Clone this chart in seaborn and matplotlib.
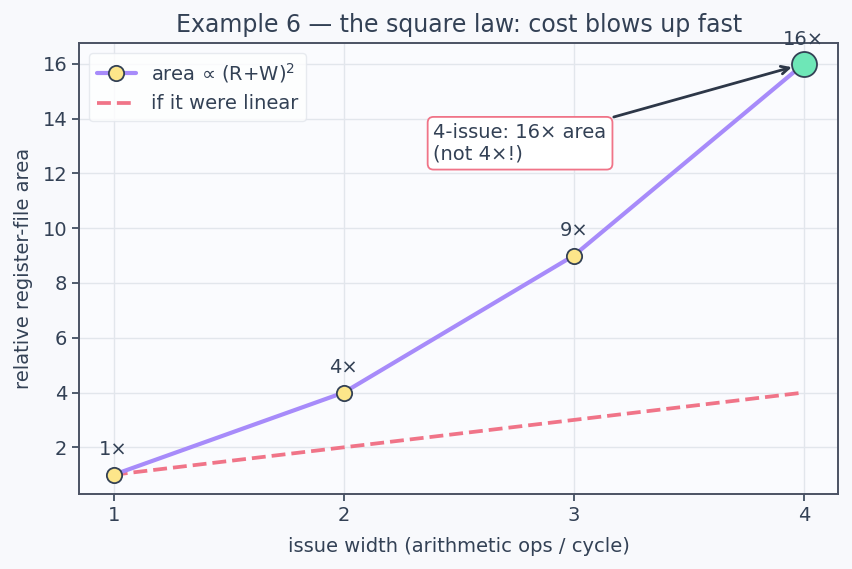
import matplotlib
matplotlib.use("Agg")
import matplotlib.pyplot as plt
import seaborn as sns
import pandas as pd

issue_width = [1, 2, 3, 4]
area_square = [1, 4, 9, 16]
area_linear = [1, 2, 3, 4]
point_labels = ["1×", "4×", "9×", "16×"]

TEXT = "#334155"
sns.set_theme(style="whitegrid")
plt.rcParams.update({
    "font.family": ["DejaVu Sans"],
    "figure.facecolor": "#f8f9fc",
    "axes.facecolor": "#fafbfe",
    "axes.edgecolor": "#4b5263",
    "grid.color": "#e2e6ec",
    "text.color": TEXT,
    "axes.labelcolor": TEXT,
    "xtick.color": TEXT,
    "ytick.color": TEXT,
})

df = pd.DataFrame({"w": issue_width, "sq": area_square, "lin": area_linear})

fig, ax = plt.subplots(figsize=(8.52, 5.69), dpi=100)
sns.lineplot(data=df, x="w", y="sq", ax=ax, color="#a78bfa", linewidth=3,
             marker="o", markersize=11, markerfacecolor="#fde68a",
             markeredgecolor="#334155", markeredgewidth=1.3,
             label="area ∝ (R+W)$^2$", zorder=3)
sns.lineplot(data=df, x="w", y="lin", ax=ax, color="#f07488", linewidth=2.7,
             linestyle="--", label="if it were linear", zorder=2)
ax.plot(issue_width[-1:], area_square[-1:], "o", markersize=18,
        markerfacecolor="#6ee7b7", markeredgecolor="#334155",
        markeredgewidth=1.3, zorder=4)

for x, y, t in zip(issue_width, area_square, point_labels):
    ax.annotate(t, (x, y), xytext=(0, 11), textcoords="offset points",
                ha="center", va="bottom", fontsize=14, color=TEXT)

ax.annotate("4-issue: 16× area\n(not 4×!)", xy=(4, 16), xytext=(2.39, 13.1),
            ha="left", va="center", fontsize=14, color=TEXT,
            bbox=dict(boxstyle="round,pad=0.3", fc="white", ec="#f07488", lw=1.3),
            arrowprops=dict(arrowstyle="->", color="#2d3748", lw=2,
                            shrinkB=9),
            zorder=5)

ax.set_xticks(issue_width)
ax.set_xlabel("issue width (arithmetic ops / cycle)", fontsize=14, labelpad=9)
ax.set_ylabel("relative register-file area", fontsize=14, labelpad=7)
ax.set_title("Example 6 — the square law: cost blows up fast", fontsize=17,
             color=TEXT, pad=8)
ax.tick_params(axis="both", labelsize=14, length=5, width=1.2, bottom=True, left=True)
for s in ax.spines.values():
    s.set_color("#4b5263")
    s.set_linewidth(1.4)
ax.set_xlim(0.85, 4.15)
ax.set_ylim(0.3, 16.75)
leg = ax.legend(loc="upper left", fontsize=14, frameon=True)
leg.get_frame().set_facecolor("white")
leg.get_frame().set_edgecolor("#e2e6ec")
for t in leg.get_texts():
    t.set_color(TEXT)

fig.subplots_adjust(left=0.093, right=0.984, top=0.924, bottom=0.132)
fig.savefig("out.png", dpi=100)
